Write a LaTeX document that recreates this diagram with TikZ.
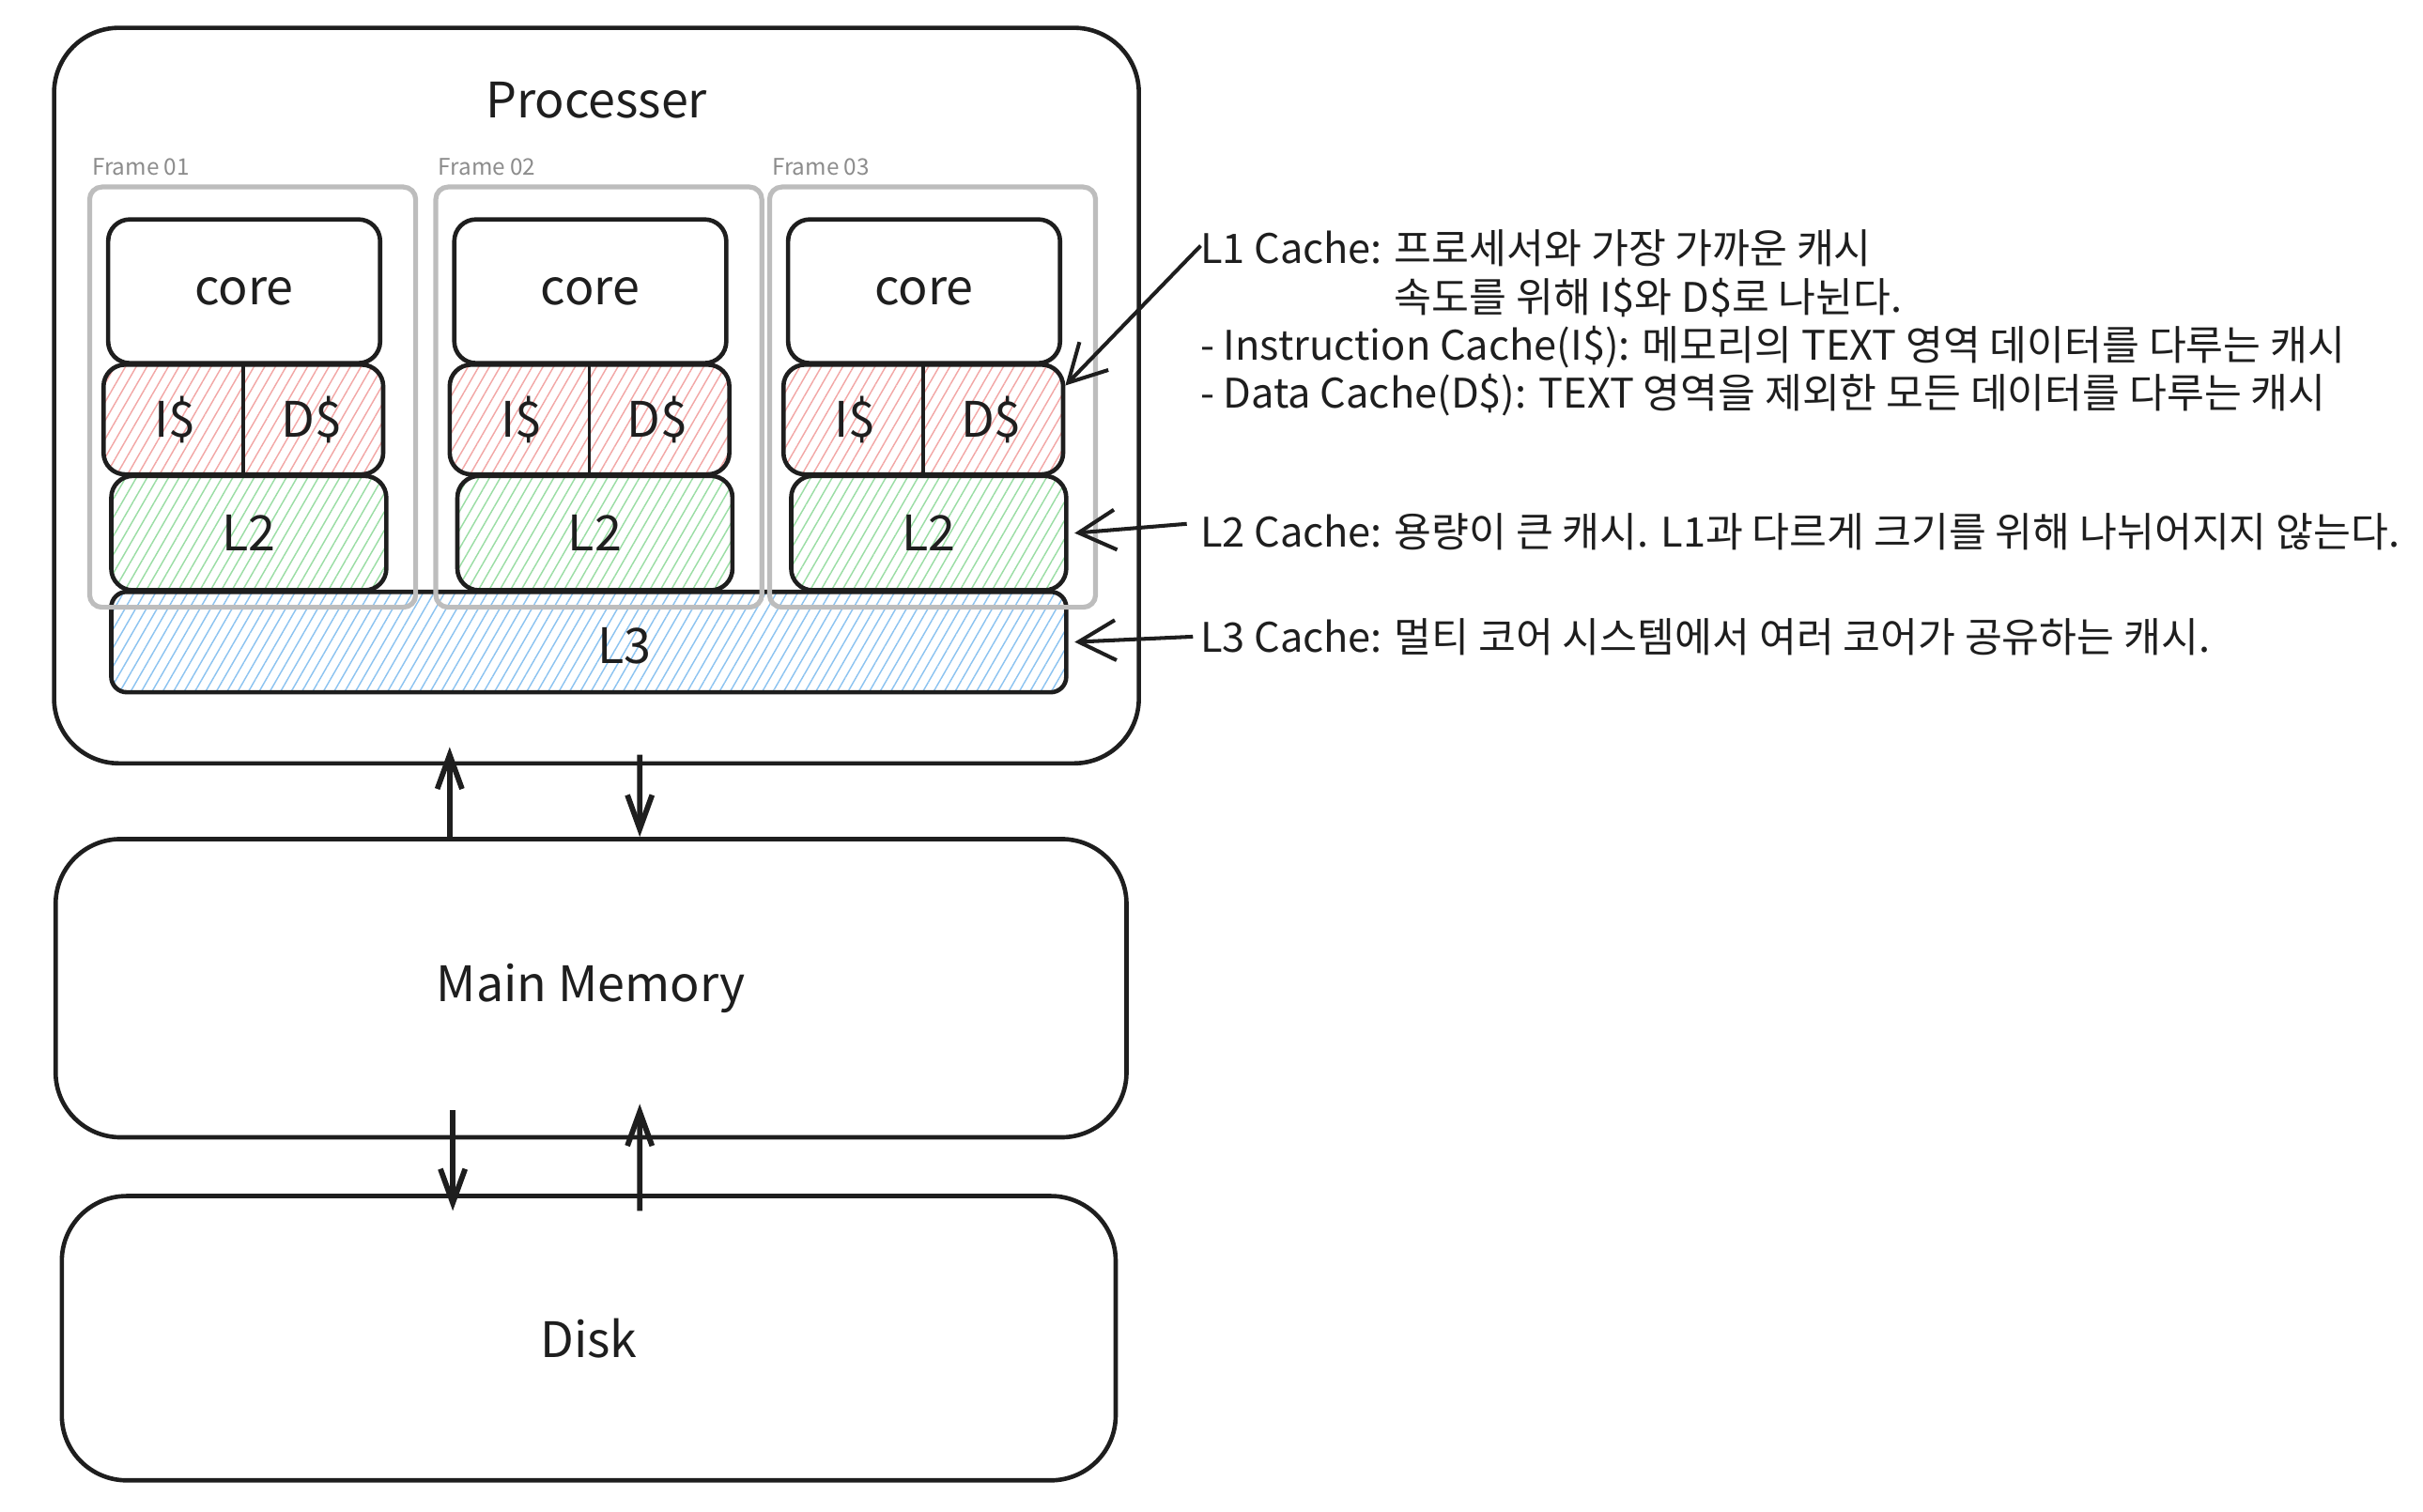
\documentclass[tikz,border=0pt]{standalone}
\usepackage{fontspec}
\newfontfamily\krfont{Noto Sans CJK KR}
\usetikzlibrary{arrows.meta,patterns.meta,calc}

\definecolor{ink}{HTML}{1E1E1E}
\definecolor{framegray}{HTML}{BDBDBD}
\definecolor{labelgray}{HTML}{8C8C8C}
\definecolor{hatchred}{HTML}{F2A7A6}
\definecolor{hatchgreen}{HTML}{9ADDA4}
\definecolor{hatchblue}{HTML}{8CC3F0}

\begin{document}
\begin{tikzpicture}[x=0.1mm, y=-0.1mm,
    box/.style={draw=ink, line width=0.8pt, rounded corners=1.4mm, inner sep=0pt,
        text=ink, font=\krfont\fontsize{9}{11}\selectfont},
    bigbox/.style={box, rounded corners=4.2mm},
    framebox/.style={draw=framegray, line width=0.9pt, rounded corners=0.8mm},
    framelabel/.style={text=labelgray, font=\krfont\fontsize{4.2}{5}\selectfont, anchor=west, inner sep=0pt},
    hatch/.style={pattern={Lines[angle=60,distance=0.6mm,line width=0.25pt]}, pattern color=#1},
    cachelabel/.style={text=ink, inner sep=0pt, font=\krfont\fontsize{9}{11}\selectfont},
    flow/.style={draw=ink, line width=1pt, -{Straight Barb[length=2.2mm,width=1.6mm]}},
    note/.style={text=ink, align=left, inner sep=0pt, font=\krfont\fontsize{7.5}{8.9}\selectfont},
    notearrow/.style={draw=ink, line width=0.7pt, -{Straight Barb[length=2.4mm,width=2.6mm]}},
]
    % --- canvas (1 unit = 0.1mm, y grows downwards) ---
    \useasboundingbox (0,0) rectangle (1568,978);

    % --- processor ---
    \node[bigbox, minimum width=70.2mm, minimum height=47.6mm] (proc) at (386,256) {};
    \node[cachelabel] (proctitle) at (386,65) {Processer};

    % shared L3 below the three frames
    \node[box, hatch=hatchblue, rounded corners=1mm, minimum width=61.8mm, minimum height=6.5mm] (lthree) at (381,415.5) {};
    \node[cachelabel] (lthreetext) at (404,418) {L3};

    % one frame per core: frame, core, L1 (I$ | D$), L2
    \foreach \i/\fx in {1/58, 2/282, 3/498} {
        \node[framelabel] (flabel\i) at (\fx+1,108) {Frame 0\i};
        \node[framebox, minimum width=21.1mm, minimum height=27.2mm] (frame\i) at (\fx+105.5,257) {};
        \node[box, fill=white, minimum width=17.6mm, minimum height=9.3mm] (core\i) at (\fx+100,188.5) {core};
        \node[box, hatch=hatchred, minimum width=18.1mm, minimum height=7.1mm] (lone\i) at (\fx+99.5,271.5) {};
        \draw[ink, line width=0.6pt] (lone\i.north) -- (lone\i.south);
        \node[cachelabel] (icache\i) at ($(lone\i.center)+(-44,0)$) {I\$};
        \node[cachelabel] (dcache\i) at ($(lone\i.center)+(44,0)$) {D\$};
        \node[box, hatch=hatchgreen, minimum width=17.8mm, minimum height=7.4mm] (ltwo\i) at (\fx+103,345) {L2};
    }

    % --- memory and disk ---
    \node[bigbox, minimum width=69.3mm, minimum height=19.3mm] (mem) at (382.5,639.5) {Main Memory};
    \node[bigbox, minimum width=68.2mm, minimum height=18.4mm] (disk) at (381,866) {Disk};

    % data paths (tips run a little into the boxes)
    \draw[flow] ($(mem.north)+(-91.5,0)$) -- ($(proc.south)+(-95,-12)$);
    \draw[flow] ($(proc.south)+(28,-7)$) -- ($(mem.north)+(31.5,0)$);
    \draw[flow] ($(mem.south)+(-89.5,-19)$) -- ($(disk.north)+(-88,11)$);
    \draw[flow] ($(disk.north)+(33,11)$) -- ($(mem.south)+(31.5,-23)$);

    % --- notes on the right ---
    \node[note, anchor=north west] (lonenote) at (776,148)
        {L1 Cache: 프로세서와 가장 가까운 캐시\\
         \phantom{L1 Cache: }속도를 위해 I\$와 D\$로 나뉜다.\\
         - Instruction Cache(I\$): 메모리의 TEXT 영역 데이터를 다루는 캐시\\
         - Data Cache(D\$): TEXT 영역을 제외한 모든 데이터를 다루는 캐시};
    \node[note, anchor=west] (ltwonote) at (776,344) {L2 Cache: 용량이 큰 캐시. L1과 다르게 크기를 위해 나뉘어지지 않는다.};
    \node[note, anchor=west] (lthreenote) at (776,412) {L3 Cache: 멀티 코어 시스템에서 여러 코어가 공유하는 캐시.};

    \draw[notearrow] ($(lonenote.north west)+(1,11)$) -- ([yshift=2.2mm]lone3.east);
    \draw[notearrow] ([xshift=-0.8mm,yshift=0.5mm]ltwonote.west) -- ([xshift=0.4mm]ltwo3.east);
    \draw[notearrow] ([xshift=-0.4mm]lthreenote.west) -- ([xshift=0.5mm]lthree.east);
\end{tikzpicture}
\end{document}
